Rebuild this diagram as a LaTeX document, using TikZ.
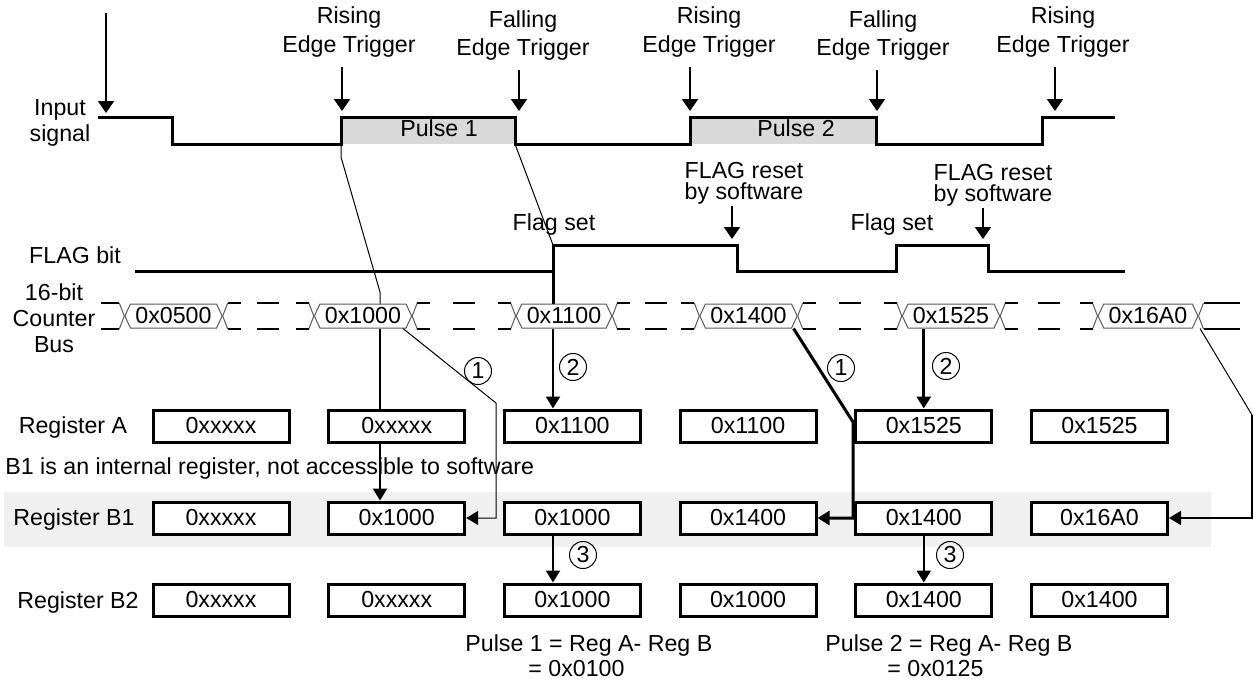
\documentclass[tikz,border=0pt]{standalone}
\usepackage{fontspec}
\setmainfont{Liberation Sans}
\usetikzlibrary{arrows.meta,positioning,calc,shapes.symbols}

\newcommand{\busgap}[2]{%
    \draw[busedge] (#1.east) -- ++(5,-13) (#1.east) -- ++(5,13)
        (#2.west) -- ++(-5,-13) (#2.west) -- ++(-5,13);
    \draw[busline] ($(#1.east)+(5,-13)$) -- ++(13,0) ($(#1.east)+(5,13)$) -- ++(13,0)
        ($(#2.west)+(-5,-13)$) -- ++(-13,0) ($(#2.west)+(-5,13)$) -- ++(-13,0)
        ($(#1.east)!0.5!(#2.west)+(-11,-13)$) -- ++(22,0)
        ($(#1.east)!0.5!(#2.west)+(-11,13)$) -- ++(22,0);
}

\begin{document}
\begin{tikzpicture}[
        x=0.5pt, y=-0.5pt,
        font=\fontsize{11.6}{14}\selectfont,
        lbl/.style={inner sep=1pt, align=center},
        wave/.style={line width=1.5pt},
        pulse/.style={fill=black!15},
        reg/.style={draw, line width=1.5pt, fill=white, minimum width=68pt,
            minimum height=16pt, inner sep=0pt},
        busval/.style={signal, signal to=west and east, signal pointer angle=130,
            draw=black!65, line width=0.5pt, fill=white, minimum height=12pt,
            inner xsep=2.5pt, inner ysep=0pt},
        busline/.style={line width=1pt},
        busedge/.style={line width=0.5pt, black!65},
        num/.style={draw, circle, line width=0.5pt, inner sep=0pt, minimum size=13.5pt},
        trig/.style={-{Triangle[length=6pt, width=8pt]}, line width=1pt, shorten >=3pt},
        arrow/.style={-{Triangle[length=6pt, width=7pt]}, line width=1pt},
        thinline/.style={line width=0.5pt}
    ]
    \useasboundingbox (0,0) rectangle (1254,691);
    \fill[black!6] (4,492) rectangle (1211,547);

    \fill[pulse] (341,117) rectangle (515,144);
    \fill[pulse] (690,117) rectangle (876,144);
    \draw[wave] (98,117) -- (172,117) -- (172,144) -- (341,144) coordinate (r1lo)
        -- (341,117) -- (515,117) -- (515,144) coordinate (f1lo) -- (690,144)
        -- (690,117) -- (876,117) -- (876,144) -- (1042,144) -- (1042,117) -- (1115,117);
    \draw[wave] (135,271) -- (553,271) coordinate (s1lo) -- (553,245) coordinate (s1)
        -- (737,245) -- (737,271) -- (896,271) -- (896,245) -- (988,245) -- (988,271)
        -- (1125,271);
    \node[lbl] (p1) at (439,128) {Pulse 1};
    \node[lbl] (p2) at (796,128) {Pulse 2};

    \coordinate (start) at (106,13);
    \coordinate (inhi) at (106,117);
    \coordinate (t1) at (342,117);
    \coordinate (t2) at (519,117);
    \coordinate (t3) at (690,117);
    \coordinate (t4) at (877,117);
    \coordinate (t5) at (1055,117);
    \coordinate (rst1) at (732,245);
    \coordinate (rst2) at (983,245);

    \node[lbl] (rise1) at (349,32) {Rising\\Edge Trigger};
    \node[lbl] (fall1) at (523,35) {Falling\\Edge Trigger};
    \node[lbl] (rise2) at (709,32) {Rising\\Edge Trigger};
    \node[lbl] (fall2) at (883,35) {Falling\\Edge Trigger};
    \node[lbl] (rise3) at (1063,32) {Rising\\Edge Trigger};
    \node[lbl, font=\fontsize{11.6}{10.5}\selectfont] (reset1) at (744,183) {FLAG reset\\by software};
    \node[lbl, font=\fontsize{11.6}{10.5}\selectfont] (reset2) at (993,185) {FLAG reset\\by software};
    \node[lbl] (set1) at (554,224) {Flag set};
    \node[lbl] (set2) at (892,224) {Flag set};

    \node[lbl, font=\fontsize{11.6}{13}\selectfont] (insig) at (60,123) {Input\\signal};
    \node[lbl] (flagbit) at (75,255) {FLAG bit};
    \node[lbl, font=\fontsize{11.6}{13}\selectfont] (cnt) at (54,318) {16-bit\\Counter\\Bus};
    \node[lbl] (labA) at (73,427) {Register A};
    \node[lbl] (labB) at (74,519) {Register B1};
    \node[lbl] (labC) at (78,602) {Register B2};
    \node[lbl, anchor=west] (note) at (3,468) {B1 is an internal register, not accessible to software};

    \node[busval] (bus1) at (173.5,316) {0x0500};
    \node[busval] (bus2) at (363,316) {0x1000};
    \node[busval] (bus3) at (564,316) {0x1100};
    \node[busval] (bus4) at (748.5,316) {0x1400};
    \node[busval] (bus5) at (951,316) {0x1525};
    \node[busval] (bus6) at (1148,316) {0x16A0};
    \draw[busedge] (bus1.west) -- ++(-5,-13) (bus1.west) -- ++(-5,13);
    \draw[busline] ($(bus1.west)+(-5,-13)$) -- ++(-18,0) ($(bus1.west)+(-5,13)$) -- ++(-18,0);
    \busgap{bus1}{bus2}
    \busgap{bus2}{bus3}
    \busgap{bus3}{bus4}
    \busgap{bus4}{bus5}
    \busgap{bus5}{bus6}
    \draw[busedge] (bus6.east) -- ++(5,-13) (bus6.east) -- ++(5,13);
    \draw[busline] ($(bus6.east)+(5,-13)$) -- (1240,303) ($(bus6.east)+(5,13)$) -- (1240,329);

    \foreach \v [count=\i] in {0xxxxx,0xxxxx,0x1100,0x1100,0x1525,0x1525}
        \node[reg] (ra\i) at ({221+(\i-1)*175.7},426) {\v};
    \foreach \v [count=\i] in {0xxxxx,0x1000,0x1000,0x1400,0x1400,0x16A0}
        \node[reg] (rb\i) at ({221+(\i-1)*175.7},518) {\v};
    \foreach \v [count=\i] in {0xxxxx,0xxxxx,0x1000,0x1000,0x1400,0x1400}
        \node[reg] (rc\i) at ({221+(\i-1)*175.7},600) {\v};

    \draw[trig, shorten >=2pt] (start) -- (inhi);
    \draw[trig, shorten <=4pt] (rise1.south -| t1) -- (t1);
    \draw[trig, shorten <=4pt] (fall1.south -| t2) -- (t2);
    \draw[trig, shorten <=4pt] (rise2.south -| t3) -- (t3);
    \draw[trig, shorten <=4pt] (fall2.south -| t4) -- (t4);
    \draw[trig, shorten <=4pt] (rise3.south -| t5) -- (t5);
    \draw[trig] (reset1.south -| rst1) -- (rst1);
    \draw[trig] (reset2.south -| rst2) -- (rst2);

    \coordinate (capA) at (380,292);
    \draw[thinline] (r1lo) -- ++(0,13) -- (capA) -- (capA |- bus2.north);
    \draw[line width=1pt] (capA |- bus2.south) -- (capA |- ra2.north);
    \draw[arrow] (capA |- ra2.south) -- (capA |- rb2.north);

    \draw[thinline] (f1lo) -- (s1);
    \draw[wave] (s1lo) -- (s1lo |- bus3.north);
    \draw[arrow, line width=1.2pt] (s1lo |- bus3.south) -- (s1lo |- ra3.north);

    \coordinate (kneeA) at (496,403);
    \draw[arrow, line width=0.5pt] ($(bus2.south)+(40,0)$) -- (kneeA) -- (kneeA |- rb2.east) -- (rb2.east);
    \coordinate (kneeB) at (853,422);
    \draw[arrow, line width=1.5pt] ($(bus4.south)+(45,0)$) -- (kneeB) -- (kneeB |- rb4.east) -- (rb4.east);
    \draw[arrow, line width=1.5pt] (bus5.south -| ra5) -- (ra5.north);
    \coordinate (kneeC) at (1252,415);
    \draw[thinline] ($(bus6.south)+(52,0)$) -- (kneeC);
    \draw[arrow] (kneeC) -- (kneeC |- rb6.east) -- (rb6.east);

    \draw[arrow, line width=1.2pt] (rb3.south -| s1lo) -- (rc3.north -| s1lo);
    \draw[arrow, line width=1.2pt] (rb5.south) -- (rc5.north);

    \node[num] (one1) at (478,371) {1};
    \node[num] (two1) at (573,367) {2};
    \node[num] (one2) at (841,368) {1};
    \node[num] (two2) at (946,366) {2};
    \node[num] (three1) at (583,555) {3};
    \node[num] (three2) at (950,555) {3};

    \node[lbl, anchor=north west, align=left, font=\fontsize{11.6}{12.5}\selectfont] (res1) at (463,632)
    {Pulse 1 = Reg A- Reg B\\\hspace*{31.5pt}= 0x0100};
    \node[lbl, anchor=north west, align=left, font=\fontsize{11.6}{12.5}\selectfont] (res2) at (823,632)
    {Pulse 2 = Reg A- Reg B\\\hspace*{31pt}= 0x0125};
\end{tikzpicture}
\end{document}
